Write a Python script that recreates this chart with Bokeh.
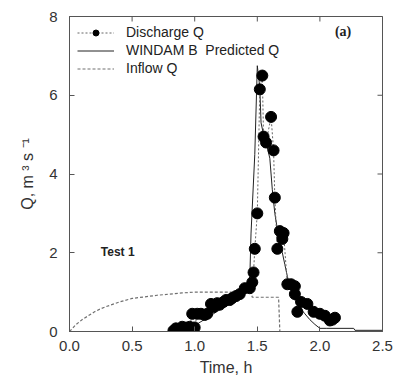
import math
from bokeh.plotting import figure
from bokeh.models import Range1d, Legend, LegendItem, Label, FixedTicker
from bokeh.embed import file_html
from bokeh.resources import INLINE

# ---- data ----
dis_t = [0.83, 0.85, 0.88, 0.90, 0.93, 0.96, 0.98, 1.00, 1.02, 1.05, 1.08, 1.10, 1.13, 1.15,
         1.18, 1.20, 1.23, 1.25, 1.28, 1.30, 1.33, 1.36, 1.40, 1.44, 1.46, 1.47, 1.48, 1.50,
         1.52, 1.54, 1.55, 1.57, 1.61, 1.63, 1.64, 1.66, 1.68, 1.70, 1.71, 1.74, 1.77, 1.80,
         1.80, 1.82, 1.85, 1.90, 1.95, 2.00, 2.04, 2.08, 2.10, 2.12]
dis_q = [0.02, 0.08, 0.05, 0.12, 0.10, 0.12, 0.45, 0.10, 0.45, 0.45, 0.42, 0.45, 0.70, 0.62,
         0.72, 0.68, 0.75, 0.80, 0.80, 0.85, 0.90, 0.95, 1.10, 1.10, 1.25, 1.50, 2.10, 3.00,
         6.15, 6.50, 4.95, 4.80, 5.45, 4.60, 3.40, 2.10, 2.55, 2.35, 2.50, 1.20, 1.20, 1.15,
         0.95, 0.50, 0.75, 0.70, 0.50, 0.45, 0.40, 0.28, 0.30, 0.35]

pred_t = [0.0, 0.90, 0.95, 1.00, 1.05, 1.10, 1.15, 1.20, 1.25, 1.30, 1.35, 1.40, 1.44, 1.45,
          1.48, 1.50, 1.52, 1.53, 1.55, 1.57, 1.60, 1.62, 1.64, 1.66, 1.68, 1.70, 1.72, 1.74,
          1.76, 1.78, 1.80, 1.84, 1.88, 1.92, 1.96, 2.00, 2.05, 2.27, 2.28, 2.50]
pred_q = [0.0, 0.0, 0.05, 0.15, 0.25, 0.35, 0.45, 0.55, 0.65, 0.75, 0.95, 1.15, 1.35, 2.50,
          4.50, 6.75, 6.20, 5.30, 5.00, 4.80, 4.40, 3.60, 3.00, 2.60, 2.30, 2.00, 1.70, 1.40,
          1.15, 0.95, 0.80, 0.60, 0.45, 0.30, 0.18, 0.08, 0.08, 0.08, 0.03, 0.03]

inf_t = [0.0, 0.05, 0.10, 0.20, 0.25, 0.30, 0.40, 0.50, 0.60, 0.70, 0.80, 0.90, 1.00, 1.20,
         1.45, 1.46, 1.67, 1.68]
inf_q = [0.0, 0.17, 0.30, 0.50, 0.58, 0.64, 0.75, 0.84, 0.88, 0.92, 0.95, 0.98, 1.00, 1.00,
         1.00, 0.87, 0.87, 0.0]

x_ticks = [0.0, 0.5, 1.0, 1.5, 2.0, 2.5]
y_ticks = [0, 2, 4, 6, 8]
x_max = 2.5
y_max = 8

FONT = "Liberation Sans"
TXT = "#333333"
AX = "#555555"

p = figure(width=398, height=381, output_backend="svg", toolbar_location=None,
           x_range=Range1d(0, x_max), y_range=Range1d(0, y_max),
           min_border_left=69, min_border_top=16, min_border_right=16, min_border_bottom=50)
p.grid.visible = False
p.outline_line_color = AX
p.outline_line_width = 1
p.background_fill_color = "white"
p.border_fill_color = "white"

for ax in [p.xaxis[0], p.yaxis[0]]:
    ax.major_tick_in = 5
    ax.major_tick_out = 0
    ax.minor_tick_line_color = None
    ax.axis_line_color = AX
    ax.major_tick_line_color = AX
    ax.major_label_text_font = FONT
    ax.major_label_text_font_size = "15px"
    ax.major_label_text_color = TXT
    ax.axis_label_text_font = FONT
    ax.axis_label_text_font_size = "16px"
    ax.axis_label_text_font_style = "normal"
    ax.axis_label_text_color = TXT

p.xaxis[0].ticker = FixedTicker(ticks=x_ticks)
p.yaxis[0].ticker = FixedTicker(ticks=y_ticks)
p.xaxis[0].major_label_overrides = {t: f"{t:.1f}" for t in x_ticks}
p.xaxis[0].axis_label = "Time, h"
p.yaxis[0].axis_label = "Q, m ³ s ⁻¹"
p.xaxis[0].major_label_standoff = 9
p.yaxis[0].major_label_standoff = 12
p.xaxis[0].axis_label_standoff = 5
p.yaxis[0].axis_label_standoff = 10

# mirrored inward ticks on the top and right frame edges
p.scatter(x_ticks, [y_max] * len(x_ticks), marker="dash", size=10, angle=math.pi / 2,
          line_color=AX, line_width=1)
p.scatter([x_max] * len(y_ticks), y_ticks, marker="dash", size=10,
          line_color=AX, line_width=1)

r_inf = p.line(inf_t, inf_q, line_color="#707070", line_width=1.2, line_dash="3 2")
r_pred = p.line(pred_t, pred_q, line_color="#222222", line_width=1)
r_dis_l = p.line(dis_t, dis_q, line_color="#666666", line_width=1, line_dash="2 2")
r_dis_m = p.scatter(dis_t, dis_q, marker="circle", size=11, fill_color="black", line_color="black")

legend = Legend(items=[LegendItem(label="Discharge Q", renderers=[r_dis_l, r_dis_m]),
                       LegendItem(label="WINDAM B  Predicted Q", renderers=[r_pred]),
                       LegendItem(label="Inflow Q", renderers=[r_inf])],
                location="top_left", border_line_color=None, background_fill_alpha=0,
                label_text_font=FONT, label_text_font_size="14px", label_text_color="#222222",
                glyph_width=37, glyph_height=15, label_height=15, spacing=2,
                margin=8, padding=6, label_standoff=12)
p.add_layout(legend)

p.add_layout(Label(x=2.12, y=7.42, text="(a)", text_font="Liberation Serif",
                   text_font_size="14px", text_font_style="bold", text_color="#222222"))
p.add_layout(Label(x=0.25, y=1.83, text="Test 1", text_font=FONT,
                   text_font_size="12px", text_font_style="bold", text_color="#222222"))

open("out.html", "w").write(file_html(p, INLINE))
